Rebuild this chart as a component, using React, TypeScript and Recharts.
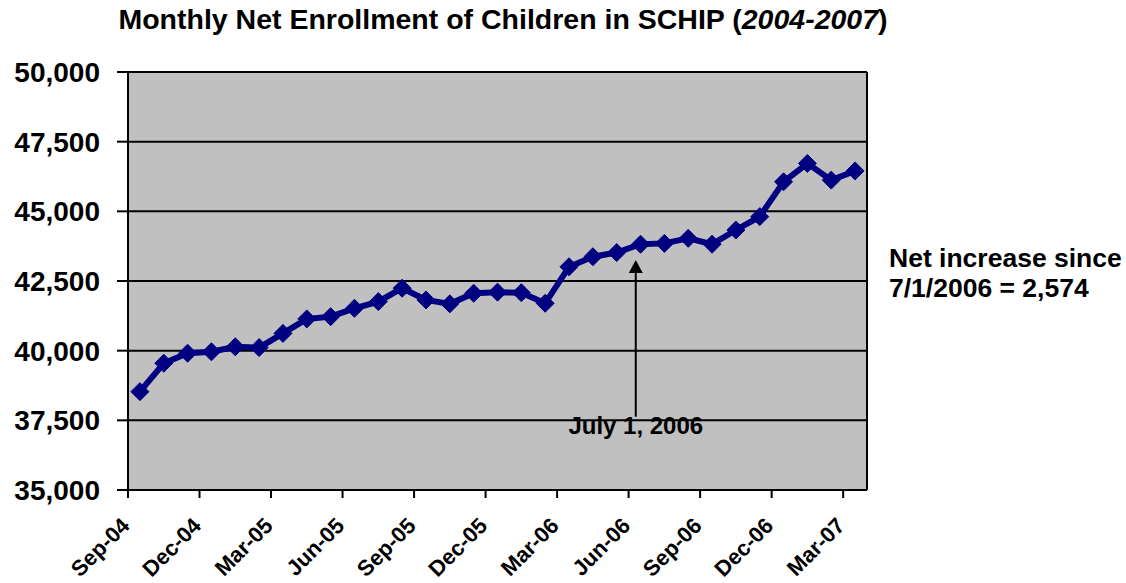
import { CartesianGrid, Line, LineChart, ReferenceLine, XAxis, YAxis } from "recharts";

const months = [
  "Sep-04", "Oct-04", "Nov-04", "Dec-04", "Jan-05", "Feb-05", "Mar-05", "Apr-05",
  "May-05", "Jun-05", "Jul-05", "Aug-05", "Sep-05", "Oct-05", "Nov-05", "Dec-05",
  "Jan-06", "Feb-06", "Mar-06", "Apr-06", "May-06", "Jun-06", "Jul-06", "Aug-06",
  "Sep-06", "Oct-06", "Nov-06", "Dec-06", "Jan-07", "Feb-07", "Mar-07",
];
const enrollment = [
  38530, 39550, 39910, 39960, 40140, 40110, 40620, 41140,
  41220, 41520, 41760, 42240, 41820, 41680, 42060, 42100,
  42080, 41700, 43010, 43370, 43520, 43820, 43850, 44030,
  43820, 44330, 44810, 46060, 46720, 46120, 46450,
];
const monthTicks = [0, 3, 6, 9, 12, 15, 18, 21, 24, 27, 30];
const valueTicks = [35000, 37500, 40000, 42500, 45000, 47500, 50000];
const arrowPos = 21.3;
const arrowFrom = 37630;
const arrowTo = 43250;

const data = months.map((m, i) => ({ month: m, pos: i + 0.5, value: enrollment[i] }));

const FONT = '"Liberation Sans", Arial, sans-serif';

const MonthTick = (props: any) => {
  const { x, y, payload } = props;
  return (
    <text
      x={0}
      y={0}
      transform={`translate(${x + 3},${y + 27}) rotate(-45)`}
      textAnchor="end"
      fontFamily={FONT}
      fontWeight="bold"
      fontSize={22}
      fill="#000"
    >
      {months[payload.value]}
    </text>
  );
};

const Diamond = (props: any) => {
  const { cx, cy } = props;
  if (cx == null || cy == null) return null;
  const r = 9;
  return (
    <polygon
      points={`${cx},${cy - r} ${cx + r},${cy} ${cx},${cy + r} ${cx - r},${cy}`}
      fill="#000080"
      stroke="#000080"
    />
  );
};

const Arrow = (props: any) => {
  const { x1, y1, x2, y2 } = props;
  const x = x1 ?? x2;
  const tip = Math.min(y1, y2);
  const base = Math.max(y1, y2);
  return (
    <g>
      <line x1={x} y1={base} x2={x} y2={tip + 10} stroke="#000" strokeWidth={2} />
      <polygon points={`${x},${tip} ${x + 7},${tip + 13} ${x - 7},${tip + 13}`} fill="#000" />
      <text
        x={x}
        y={base + 17}
        textAnchor="middle"
        fontFamily={FONT}
        fontWeight="bold"
        fontSize={24}
        fill="#000"
      >
        July 1, 2006
      </text>
    </g>
  );
};

export default function App() {
  return (
    <div style={{ position: "absolute", left: 0, top: 0, width: 1126, height: 583, background: "#fff", overflow: "hidden" }}>
      <div
        style={{
          position: "absolute",
          left: 0,
          width: 1006,
          top: 2,
          textAlign: "center",
          fontFamily: FONT,
          fontWeight: "bold",
          fontSize: 28.5,
          lineHeight: "34px",
          whiteSpace: "nowrap",
        }}
      >
        Monthly Net Enrollment of Children in SCHIP (<i>2004-2007</i>)
      </div>
      <LineChart width={1126} height={583} data={data} margin={{ top: 72, right: 259, bottom: 0, left: 0 }}>
        <CartesianGrid vertical={false} fill="#C0C0C0" stroke="#000" strokeWidth={2} strokeOpacity={1} />
        <XAxis
          type="number"
          dataKey="pos"
          domain={[0, 31]}
          ticks={monthTicks}
          interval={0}
          height={93}
          tick={<MonthTick />}
          tickSize={8}
          axisLine={{ stroke: "#000", strokeWidth: 2 }}
          tickLine={{ stroke: "#000", strokeWidth: 2 }}
        />
        <YAxis
          domain={[35000, 50000]}
          ticks={valueTicks}
          interval={0}
          width={128}
          tickSize={11}
          tickMargin={17}
          tickFormatter={(v: number) => v.toLocaleString("en-US")}
          tick={{ fill: "#000", fontFamily: FONT, fontWeight: "bold", fontSize: 28 }}
          axisLine={{ stroke: "#000", strokeWidth: 2 }}
          tickLine={{ stroke: "#000", strokeWidth: 2 }}
        />
        <ReferenceLine x={31} stroke="#000" strokeWidth={2} />
        <ReferenceLine
          segment={[
            { x: arrowPos, y: arrowFrom },
            { x: arrowPos, y: arrowTo },
          ]}
          shape={<Arrow />}
        />
        <Line
          type="linear"
          dataKey="value"
          stroke="#000080"
          strokeWidth={6}
          dot={<Diamond />}
          activeDot={false}
          isAnimationActive={false}
        />
      </LineChart>
      <div
        style={{
          position: "absolute",
          left: 889,
          top: 243,
          fontFamily: FONT,
          fontWeight: "bold",
          fontSize: 26.5,
          lineHeight: "30px",
          whiteSpace: "nowrap",
        }}
      >
        Net increase since
        <br />
        7/1/2006 = 2,574
      </div>
    </div>
  );
}
